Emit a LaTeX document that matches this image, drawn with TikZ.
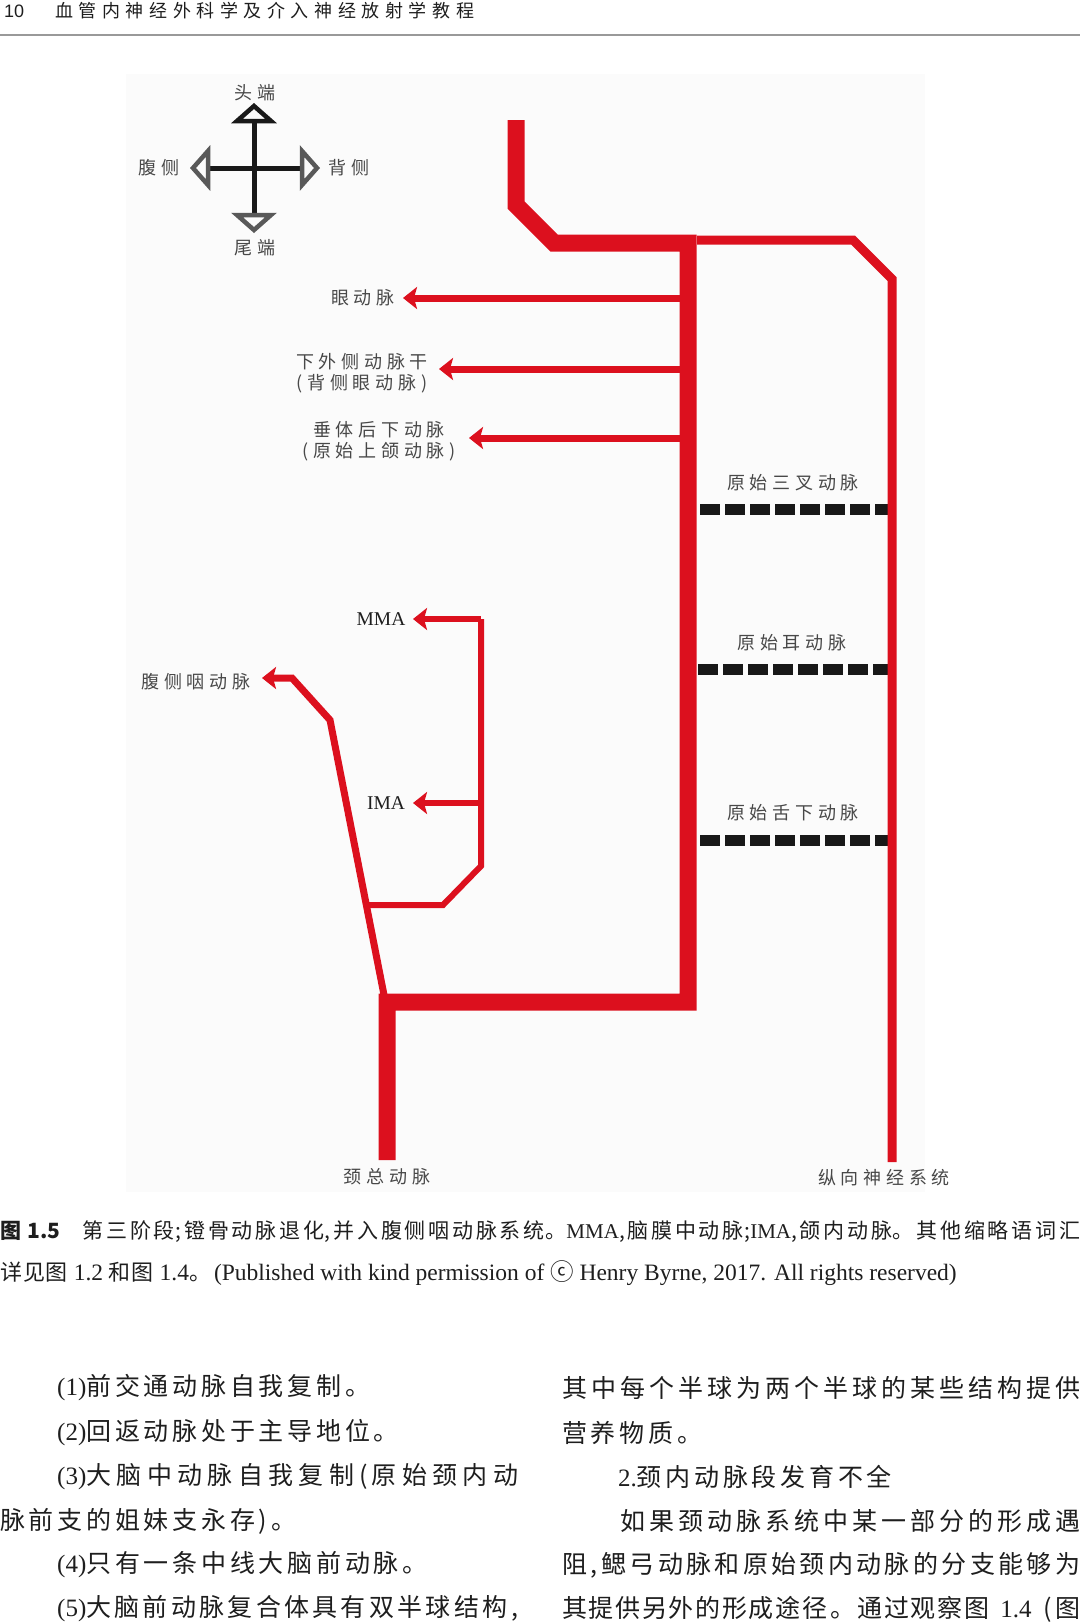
\documentclass[tikz,border=0pt]{standalone}
\usepackage{fontspec}
\usepackage{tikz}
\usetikzlibrary{arrows.meta}
\setmainfont{Liberation Serif}
\setsansfont{Liberation Sans}
\newfontfamily\cjk{Noto Sans CJK SC}
\newfontfamily\cjklbl[LetterSpace=26]{Noto Sans CJK SC}
\newfontfamily\cjkhead[LetterSpace=31]{Noto Sans CJK SC}
\newfontfamily\cjkbody[LetterSpace=15]{Noto Sans CJK SC}
\newfontfamily\cjkcap[LetterSpace=4]{Noto Sans CJK SC}
\XeTeXlinebreaklocale "zh"
\XeTeXlinebreakskip=0pt plus 4pt minus 1.5pt
\XeTeXlinebreakpenalty=10000
\definecolor{vesselred}{RGB}{220,16,30}
\definecolor{lostblack}{RGB}{24,24,24}
\definecolor{lblgray}{RGB}{72,72,72}
\definecolor{textgray}{RGB}{30,30,30}
\definecolor{figbg}{RGB}{251,251,251}
\newcommand{\fullline}[2]{\parbox{#1}{\parindent=0pt\parfillskip=0pt\relax #2}}

\begin{document}
\begin{tikzpicture}[x=1pt, y=-1pt,
  vessel/.style={draw=vesselred, line width=17pt, line join=miter},
  neural/.style={draw=vesselred, line width=9pt, line join=miter},
  branch/.style={draw=vesselred, line width=7pt, line join=miter, -{Stealth[length=14pt, width=22pt, inset=3pt]}},
  twig/.style={draw=vesselred, line width=6pt, line join=miter},
  lost/.style={draw=lostblack, line width=11pt, dash pattern=on 20pt off 5pt},
  axis/.style={draw=black!90, line width=5pt},
  tri/.style={line width=4.5pt, line join=miter},
  lbl/.style={font=\cjklbl\fontsize{18}{21}\selectfont, text=lblgray, inner sep=0pt, align=center},
  abbr/.style={font=\rmfamily\fontsize{19.5}{21}\selectfont, text=textgray, inner sep=0pt},
  body/.style={font=\cjkbody\fontsize{25}{28}\selectfont, text=textgray, inner sep=0pt, anchor=west},
  capline/.style={font=\cjkcap\fontsize{21}{24}\selectfont, text=textgray, inner sep=0pt, anchor=west}
]
\useasboundingbox (0,0) rectangle (1080,1623);

% running head
\node[font=\sffamily\fontsize{18}{20}\selectfont, text=textgray, inner sep=0pt, anchor=west] (pagenum) at (4,11) {10};
\node[font=\cjkhead\fontsize{18}{20}\selectfont, text=textgray, inner sep=0pt, anchor=west] (runhead) at (55,11) {血管内神经外科学及介入神经放射学教程};
\draw[black!40, line width=1.5pt] (0,35) -- (1080,35);

\fill[figbg] (126,74) rectangle (925,1192);

% orientation cross
\coordinate (cc) at (254,168);
\draw[axis] (254,121) -- (254,213);
\draw[axis] (208,168) -- (302,168);
\draw[tri, draw=black!90] (254,106) -- (271,121) -- (237,121) -- cycle;
\draw[tri, draw=black!65] (193,168) -- (208,151) -- (208,185) -- cycle;
\draw[tri, draw=black!65] (317,168) -- (302,151) -- (302,185) -- cycle;
\draw[tri, draw=black!65] (254,230) -- (271,215) -- (237,215) -- cycle;
\node[lbl] (cranial) at (255,93) {头端};
\node[lbl] (caudal) at (255,248) {尾端};
\node[lbl] (ventral) at (159,168) {腹侧};
\node[lbl] (dorsal) at (349,168) {背侧};

% junctions
\coordinate (icatop) at (516,120);
\coordinate (icabend) at (516,205);
\coordinate (icaknee) at (554,243);
\coordinate (trunktop) at (688,243);
\coordinate (trunkbot) at (688,1002);
\coordinate (ccajoin) at (387,1002);
\coordinate (ccaend) at (387,1160);
\coordinate (ophroot) at (688,298);
\coordinate (ophtip) at (403,298);
\coordinate (iltroot) at (688,369);
\coordinate (ilttip) at (439,369);
\coordinate (iharoot) at (688,438);
\coordinate (ihatip) at (469,438);
\coordinate (vparoot) at (385,1000);
\coordinate (vpabend) at (330,720);
\coordinate (vpaknee) at (292,678);
\coordinate (vpatip) at (262,678);
\coordinate (stroot) at (367,905);
\coordinate (stknee) at (443,905);
\coordinate (stbend) at (481,866);
\coordinate (mmacorner) at (481,619);
\coordinate (mmatip) at (413,619);
\coordinate (imaroot) at (481,803);
\coordinate (imatip) at (413,803);
\coordinate (lnsstart) at (697,240);
\coordinate (lnsknee) at (853,240);
\coordinate (lnsbend) at (892,279);
\coordinate (lnsend) at (892,1162);

\draw[branch] (ophroot) -- (ophtip);
\draw[branch] (iltroot) -- (ilttip);
\draw[branch] (iharoot) -- (ihatip);
\draw[branch] (vparoot) -- (vpabend) -- (vpaknee) -- (vpatip);
\draw[twig] (stroot) -- (stknee) -- (stbend) -- (mmacorner);
\draw[branch, line width=6pt] (mmacorner) -- (mmatip);
\draw[branch, line width=6pt] (imaroot) -- (imatip);
\draw[vessel] (icatop) -- (icabend) -- (icaknee) -- (trunktop) -- (trunkbot) -- (ccajoin) -- (ccaend);

\draw[lost] (700,509) -- (890,509);
\draw[lost] (698,669) -- (890,669);
\draw[lost] (700,840) -- (890,840);
\draw[neural] (lnsstart) -- (lnsknee) -- (lnsbend) -- (lnsend);

\node[lbl] (ophlbl) at (363,298) {眼动脉};
\node[lbl] (iltlbl) at (362,373) {下外侧动脉干\\(背侧眼动脉)};
\node[lbl] (ihalbl) at (379,441) {垂体后下动脉\\(原始上颌动脉)};
\node[lbl] (trilbl) at (793,483) {原始三叉动脉};
\node[lbl] (otilbl) at (792,643) {原始耳动脉};
\node[lbl] (hyplbl) at (793,813) {原始舌下动脉};
\node[abbr] (mmalbl) at (381,619) {MMA};
\node[abbr] (imalbl) at (386,803) {IMA};
\node[lbl] (vpalbl) at (196,682) {腹侧咽动脉};
\node[lbl] (ccalbl) at (387,1177) {颈总动脉};
\node[lbl] (lnslbl) at (884,1178) {纵向神经系统};

% caption
\node[capline] (cap1) at (0,1232) {\fullline{1080pt}{{\cjk\bfseries 图~1.5}\hspace{22pt}第三阶段;镫骨动脉退化,并入腹侧咽动脉系统。{\rmfamily MMA},脑膜中动脉;{\rmfamily IMA},颌内动脉。其他缩略语词汇}};
\node[capline, font=\cjkcap\fontsize{22}{24}\selectfont] (cap2) at (0,1273) {详见图~{\rmfamily\fontsize{23.5}{24}\selectfont 1.2}~和图~{\rmfamily\fontsize{23.5}{24}\selectfont 1.4}。\hspace{3pt}{\rmfamily\fontsize{23.5}{24}\selectfont (Published with kind permission of {\cjk ⓒ} Henry Byrne, 2017. All rights reserved)}};

% body text, left column
\node[body] (l1) at (57,1388) {{\rmfamily (1)}前交通动脉自我复制。};
\node[body] (l2) at (57,1433) {{\rmfamily (2)}回返动脉处于主导地位。};
\node[body] (l3) at (57,1477) {\fullline{461pt}{{\rmfamily (3)}大脑中动脉自我复制({}原始颈内动}};
\node[body] (l4) at (0,1521) {脉前支的姐妹支永存)。};
\node[body] (l5) at (57,1565) {{\rmfamily (4)}只有一条中线大脑前动脉。};
\node[body] (l6) at (57,1609) {\fullline{461pt}{{\rmfamily (5)}大脑前动脉复合体具有双半球结构,}};

% body text, right column
\node[body] (r1) at (562,1388) {\fullline{518pt}{其中每个半球为两个半球的某些结构提供}};
\node[body] (r2) at (562,1433) {营养物质。};
\node[body] (r3) at (618,1477) {{\rmfamily 2.}颈内动脉段发育不全};
\node[body] (r4) at (620,1521) {\fullline{460pt}{如果颈动脉系统中某一部分的形成遇}};
\node[body] (r5) at (562,1565) {\fullline{518pt}{阻,鳃弓动脉和原始颈内动脉的分支能够为}};
\node[body] (r6) at (562,1609) {\fullline{518pt}{其提供另外的形成途径。通过观察图~{\rmfamily 1.4}~({}图}};
\end{tikzpicture}
\end{document}
